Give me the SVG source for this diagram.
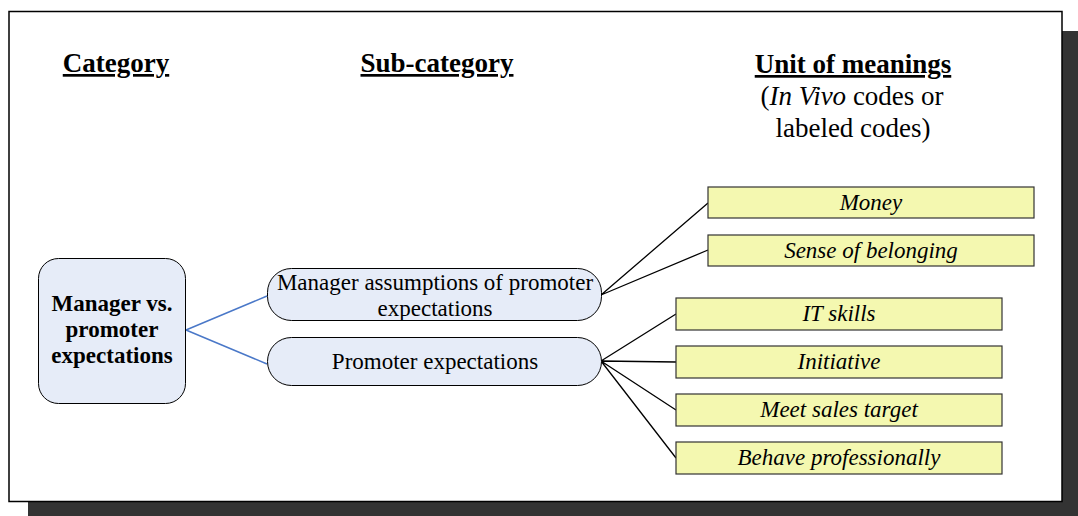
<svg xmlns="http://www.w3.org/2000/svg" width="1078" height="516" viewBox="0 0 1078 516" font-family="'Liberation Serif', serif">
<style>
text{font-family:'Liberation Serif',serif;fill:#000}
.hd{font-size:27px;font-weight:bold;text-decoration:underline}
.sub{font-size:27px}
.cat{fill:#e6ecf8;stroke:#000;stroke-width:1}
.cn{font-size:23px;font-weight:bold;text-anchor:middle}
.sn{font-size:23px;text-anchor:middle}
.u{fill:#f4f8b0;stroke:#333;stroke-width:1.2}
.ut{font-size:23px;font-style:italic;text-anchor:middle}
.bl{stroke:#4a78c8;stroke-width:1.5;fill:none}
.bk{stroke:#000;stroke-width:1.3;fill:none}
</style>
<rect x="0" y="0" width="1078" height="516" fill="#fff"/>
<rect x="28" y="31" width="1050" height="485" fill="#333"/>
<rect x="9" y="11.5" width="1053" height="490" fill="#fff" stroke="#000" stroke-width="1.5"/>
<g id="headers">
<text class="hd" x="116" y="72" text-anchor="middle">Category</text>
<text class="hd" x="437" y="72" text-anchor="middle">Sub-category</text>
<text class="hd" x="853" y="73" text-anchor="middle">Unit of meanings</text>
<text class="sub" x="852" y="105" text-anchor="middle">(<tspan font-style="italic">In Vivo</tspan> codes or</text>
<text class="sub" x="853" y="137" text-anchor="middle">labeled codes)</text>
</g>
<g id="connectors">
<path class="bl" d="M186,330 L267,296 M186,330 L267,364"/>
<path class="bk" d="M601,295 L708,203 M601,295 L708,250 M601,361 L676,314 M601,361 L676,362 M601,361 L676,410 M601,361 L676,458"/>
</g>
<g id="category">
<rect class="cat" x="38.5" y="258.5" width="147" height="145" rx="20"/>
<text class="cn" x="112" y="311">Manager vs.</text>
<text class="cn" x="112" y="337">promoter</text>
<text class="cn" x="112" y="363">expectations</text>
</g>
<g id="sub1">
<rect class="cat" x="267.5" y="268.5" width="334" height="52" rx="24"/>
<text class="sn" x="435" y="290">Manager assumptions of promoter</text>
<text class="sn" x="435" y="316">expectations</text>
</g>
<g id="sub2">
<rect class="cat" x="267.5" y="337.5" width="334" height="48" rx="24"/>
<text class="sn" x="435" y="369">Promoter expectations</text>
</g>
<g id="money"><rect class="u" x="708" y="187" width="326" height="31"/><text class="ut" x="871" y="210">Money</text></g>
<g id="belonging"><rect class="u" x="708" y="235" width="326" height="31"/><text class="ut" x="871" y="258">Sense of belonging</text></g>
<g id="it"><rect class="u" x="676" y="298" width="326" height="32"/><text class="ut" x="839" y="321">IT skills</text></g>
<g id="initiative"><rect class="u" x="676" y="346" width="326" height="32"/><text class="ut" x="839" y="369">Initiative</text></g>
<g id="sales"><rect class="u" x="676" y="394" width="326" height="32"/><text class="ut" x="839" y="417">Meet sales target</text></g>
<g id="professional"><rect class="u" x="676" y="442" width="326" height="32"/><text class="ut" x="839" y="465">Behave professionally</text></g>
</svg>
